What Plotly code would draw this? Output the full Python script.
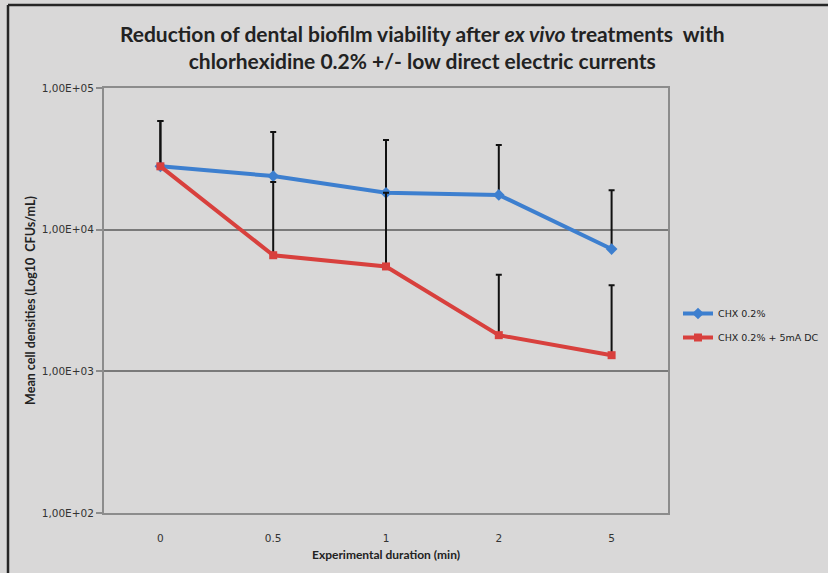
import plotly.graph_objects as go

# Experimental durations (categories) and mean CFU/mL per treatment
durations = ["0", "0.5", "1", "2", "5"]
chx = [28000, 23900, 18200, 17600, 7300]
chx_dc = [28000, 6600, 5500, 1800, 1300]
# Upper ends of the standard-deviation bars
chx_upper = [58500, 48900, 43000, 39600, 19000]
chx_dc_upper = [58500, 21700, 18200, 4800, 4050]

y_tickvals = [100, 1000, 10000, 100000]
y_ticktext = ["1,00E+02", "1,00E+03", "1,00E+04", "1,00E+05"]

BG = "#d9d8d8"
BLUE = "#3d7fcf"
RED = "#d8403d"
FRAME = "#8c8c8c"

W, H = 828, 573
ML, MR, MT, MB = 104, 160, 88, 60
PW, PH = W - ML - MR, H - MT - MB


def px_x(x):
    return (x - ML) / PW


def px_y(y):
    return (H - MB - y) / PH


fig = go.Figure()

fig.add_trace(go.Scatter(
    x=durations, y=chx, name="CHX 0.2%", mode="lines+markers", legendgroup="a",
    line=dict(color=BLUE, width=4),
    marker=dict(symbol="diamond", size=9, color=BLUE),
    error_y=dict(type="data", symmetric=False,
                 array=[u - v for u, v in zip(chx_upper, chx)],
                 arrayminus=[0] * len(chx),
                 color="#111111", thickness=2, width=3),
))
fig.add_trace(go.Scatter(
    x=durations, y=chx_dc, name="CHX 0.2% + 5mA DC", mode="lines+markers", legendgroup="b",
    line=dict(color=RED, width=4),
    marker=dict(symbol="square", size=8, color=RED),
    error_y=dict(type="data", symmetric=False,
                 array=[u - v for u, v in zip(chx_dc_upper, chx_dc)],
                 arrayminus=[0] * len(chx_dc),
                 color="#111111", thickness=2, width=3),
))

fig.update_layout(
    width=W, height=H,
    margin=dict(l=ML, r=MR, t=MT, b=MB, autoexpand=False),
    paper_bgcolor=BG, plot_bgcolor=BG,
    title=dict(
        text="Reduction of dental biofilm viability after <i>ex vivo</i> treatments  with<br>"
             "chlorhexidine 0.2% +/- low direct electric currents",
        x=0.51, xanchor="center", y=0.927, yanchor="middle",
        font=dict(family="Lato", size=21, color="#222222", weight="bold"),
    ),
    showlegend=True,
    legend=dict(
        x=px_x(678), xanchor="left", y=px_y(299), yanchor="top",
        bgcolor="rgba(0,0,0,0)", font=dict(family="DejaVu Sans", size=9.5, color="#222222"),
        itemwidth=30, tracegroupgap=5,
    ),
    xaxis=dict(
        type="category", title=dict(text="Experimental duration (min)", standoff=8,
                                    font=dict(family="Lato", size=12, color="#222222", weight="bold")),
        showgrid=False, ticks="", ticklabelstandoff=14,
        tickfont=dict(family="DejaVu Sans", size=10.5, color="#333333"),
        showline=True, linecolor=FRAME, linewidth=2, mirror=True,
        range=[-0.5, 4.5],
    ),
    yaxis=dict(
        type="log", range=[2, 5],
        tickvals=y_tickvals, ticktext=y_ticktext,
        tickfont=dict(family="DejaVu Sans", size=10.5, color="#333333"),
        ticks="outside", ticklen=6, tickcolor=FRAME, tickwidth=1.5,
        showgrid=True, gridcolor="#7a7a7a", gridwidth=1.5,
        showline=True, linecolor=FRAME, linewidth=2, mirror=True,
        title=dict(text="Mean cell densities (Log10  CFUs/mL)", standoff=3,
                   font=dict(family="Lato", size=12.5, color="#222222", weight="bold")),
    ),
    shapes=[
        dict(type="line", xref="paper", yref="paper",
             x0=px_x(8), x1=px_x(W), y0=px_y(5), y1=px_y(5),
             line=dict(color="#262626", width=2.5)),
        dict(type="line", xref="paper", yref="paper",
             x0=px_x(8), x1=px_x(8), y0=px_y(5), y1=px_y(H),
             line=dict(color="#262626", width=2.5)),
    ],
)

fig.write_html("out.html")
